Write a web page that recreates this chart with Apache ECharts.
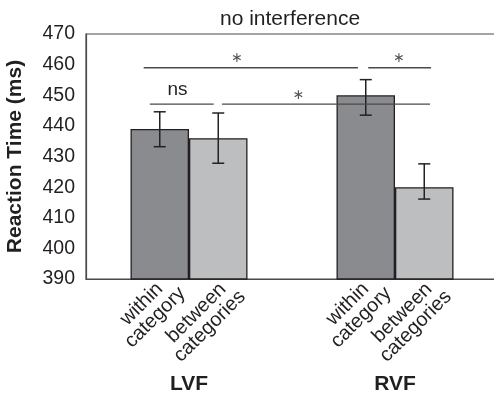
<!DOCTYPE html>
<html>
<head>
<meta charset="utf-8">
<script src="https://cdn.jsdelivr.net/npm/echarts@6/dist/echarts.min.js"></script>
<style>
  html, body { margin: 0; padding: 0; background: #fff; }
  #chart { width: 494px; height: 399px; }
</style>
</head>
<body>
<div id="chart"></div>
<script>
// Visual fields and the two stimulus conditions
const categories = ['LVF', 'RVF'];
const conditionNames = ['within category', 'between categories'];
const conditionLabels = ['within\ncategory', 'between\ncategories'];

// Mean reaction times (ms) and error-bar extents
const withinMean = [439, 450];
const betweenMean = [436, 420];
const withinLow = [433.2, 443.5];
const withinHigh = [444.6, 455.1];
const betweenLow = [427.8, 416.1];
const betweenHigh = [444.2, 427.6];

// Value axis range
const yMin = 390;
const yMax = 470;
const yStep = 10;

// Significance comparisons; horizontal extents in category units (0 = LVF, 1 = RVF)
const bracketLevel = [459, 459, 447.1, 447.1];
const bracketStart = [-0.22, 0.87, -0.19, 0.16];
const bracketEnd = [0.82, 1.175, 0.12, 1.17];
const bracketMarkAt = [0.234, 1.02, -0.056, 0.532];
const bracketMark = ['*', '*', 'ns', '*'];

const FONT = '"Liberation Sans", Arial, Helvetica, sans-serif';
const TEXT = '#231f20';
const BAR_W = 58.5;

const chart = echarts.init(document.getElementById('chart'), null, { renderer: 'canvas' });

function errorSeries(low, high, shift) {
  return {
    type: 'custom',
    z: 5,
    data: categories.map((c, i) => [i, low[i], high[i]]),
    encode: { x: 0, y: [1, 2] },
    renderItem(params, api) {
      const lo = api.coord([api.value(0), api.value(1)]);
      const hi = api.coord([api.value(0), api.value(2)]);
      const x = lo[0] + shift;
      const cap = 6;
      const st = { stroke: '#222', lineWidth: 1.5 };
      return {
        type: 'group',
        children: [
          { type: 'line', shape: { x1: x, y1: lo[1], x2: x, y2: hi[1] }, style: st },
          { type: 'line', shape: { x1: x - cap, y1: hi[1], x2: x + cap, y2: hi[1] }, style: st },
          { type: 'line', shape: { x1: x - cap, y1: lo[1], x2: x + cap, y2: lo[1] }, style: st }
        ]
      };
    }
  };
}

// Condition name under each bar, slanted; offset is along / across the slanted text
function barLabel(text, offset) {
  return {
    show: true,
    position: 'bottom',
    distance: 0,
    formatter: text,
    rotate: 45,
    align: 'center',
    verticalAlign: 'middle',
    offset: offset,
    fontFamily: FONT,
    fontSize: 20,
    lineHeight: 19,
    color: TEXT
  };
}

const option = {
  animation: false,
  backgroundColor: '#fff',
  grid: {
    left: 86, right: -4, top: 34, bottom: 120,
    outerBoundsMode: 'none',
    containLabel: false,
    show: true, borderColor: '#4a4a4a', borderWidth: 1.2, backgroundColor: 'transparent'
  },
  graphic: [{
    type: 'text',
    left: 290 - 70, top: 9,
    style: { text: 'no interference', font: '21px ' + FONT, fill: TEXT }
  }],
  xAxis: {
    type: 'category',
    data: categories,
    axisLine: { show: true, lineStyle: { color: '#4a4a4a', width: 1.2 } },
    axisTick: { show: false },
    splitLine: { show: false },
    axisLabel: {
      margin: 95,
      fontFamily: FONT, fontSize: 21, fontWeight: 'bold', color: TEXT
    }
  },
  yAxis: {
    type: 'value',
    min: yMin, max: yMax, interval: yStep,
    name: 'Reaction Time (ms)',
    nameLocation: 'middle',
    nameGap: 60,
    nameTextStyle: { fontFamily: FONT, fontSize: 21, fontWeight: 'bold', color: TEXT },
    axisLine: { show: true, lineStyle: { color: '#4a4a4a', width: 1.2 } },
    axisTick: { show: false },
    splitLine: { show: false },
    axisLabel: { margin: 11, fontFamily: FONT, fontSize: 19.5, color: TEXT }
  },
  series: [
    {
      name: conditionNames[0],
      type: 'bar',
      data: withinMean,
      barWidth: BAR_W,
      barGap: '0%',
      itemStyle: { color: '#8a8b8f', borderColor: '#231f20', borderWidth: 1.3 },
      label: barLabel(conditionLabels[0], [-30, 14])
    },
    {
      name: conditionNames[1],
      type: 'bar',
      data: betweenMean,
      barWidth: BAR_W,
      barGap: '0%',
      itemStyle: { color: '#bdbec0', borderColor: '#231f20', borderWidth: 1.3 },
      label: barLabel(conditionLabels[1], [-39, 17.5])
    },
    errorSeries(withinLow, withinHigh, -BAR_W / 2),
    errorSeries(betweenLow, betweenHigh, BAR_W / 2),
    {
      type: 'custom',
      z: 6,
      data: bracketLevel.map((y, i) => [0, y, bracketStart[i], bracketEnd[i], bracketMarkAt[i]]),
      encode: { x: 0, y: 1 },
      renderItem(params, api) {
        const y = api.value(1);
        const a = api.coord([0, y]);
        const b = api.coord([1, y]);
        const sx = t => a[0] + (b[0] - a[0]) * t;
        const mark = bracketMark[params.dataIndex];
        const isStar = mark === '*';
        return {
          type: 'group',
          children: [
            {
              type: 'line',
              shape: { x1: sx(api.value(2)), y1: a[1], x2: sx(api.value(3)), y2: a[1] },
              style: { stroke: '#4a4a4a', lineWidth: 1.4 }
            },
            {
              type: 'text',
              x: sx(api.value(4)),
              y: a[1] - (isStar ? 9 : 14),
              style: {
                text: isStar ? '\u2217' : mark,
                font: isStar ? '14px "DejaVu Sans", sans-serif' : '19px ' + FONT,
                fill: isStar ? '#555' : TEXT,
                align: 'center',
                verticalAlign: 'middle'
              }
            }
          ]
        };
      }
    }
  ]
};

chart.setOption(option);
</script>
</body>
</html>
